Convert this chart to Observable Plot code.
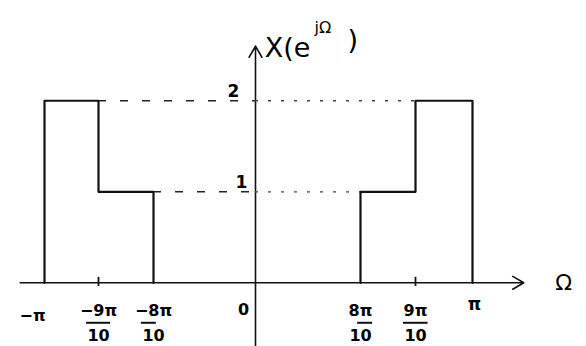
<!DOCTYPE html>
<html><head><meta charset="utf-8">
<script src="https://cdn.jsdelivr.net/npm/d3@7"></script>
<script src="https://cdn.jsdelivr.net/npm/@observablehq/plot@0.6"></script>
<style>body{margin:0;background:#fff}</style>
</head><body>
<div id="chart"></div>
<script>
// Spectrum X(e^{jΩ}), Ω in units of π
const bandStart = [-1, -0.9, 0.8, 0.9];
const bandEnd   = [-0.9, -0.8, 0.9, 1];
const bandLevel = [2, 1, 1, 2];
const bandSide  = ["left", "left", "right", "right"];

const tickValues = [-1, -0.9, -0.8, 0, 0.8, 0.9, 1];
const tickNumerators = ["−π", "−9π", "−8π", "0", "8π", "9π", "π"];
const tickDenominators = ["", "10", "10", "", "10", "10", ""];
const levelValues = [1, 2];
const levelLabels = ["1", "2"];

// build outline vertices per side from the band arrays
const outline = [];
for (const side of ["left", "right"]) {
  const idx = bandSide.map((s, i) => s === side ? i : -1).filter(i => i >= 0);
  outline.push({side, x: bandStart[idx[0]], y: 0});
  for (const i of idx) {
    outline.push({side, x: bandStart[i], y: bandLevel[i]});
    outline.push({side, x: bandEnd[i], y: bandLevel[i]});
  }
  outline.push({side, x: bandEnd[idx[idx.length - 1]], y: 0});
}
// dashed guide lines between the vertical axis and each level's inner edge
const guides = bandStart.map((s, i) => bandSide[i] === "left"
  ? {x1: bandEnd[i], x2: 0, y: bandLevel[i], side: "left"}
  : {x1: 0, x2: bandStart[i], y: bandLevel[i], side: "right"});
const ticks = tickValues.map((v, i) => ({x: v, num: tickNumerators[i], den: tickDenominators[i]}));
const fracs = ticks.filter(d => d.den);
const levels = levelValues.map((v, i) => ({y: v, label: levelLabels[i]}));

const font = "DejaVu Sans";
const ink = "#111";
const chart = Plot.plot({
  width: 586,
  height: 346,
  margin: 0,
  style: {fontFamily: font, background: "white", overflow: "visible"},
  x: {type: "linear", domain: [-1.5, -1, -0.9, -0.8, 0, 0.8, 0.9, 1, 1.5],
      range: [-226, 44, 98, 153, 255, 360, 415, 472, 757], axis: null},
  y: {domain: [-0.7, 2.75], range: [346, 32], axis: null},
  marks: [
    // axes
    Plot.arrow([{x1: -1.045, x2: 1.09, y1: 0, y2: 0}], {x1: "x1", x2: "x2", y1: "y1", y2: "y2", stroke: ink, strokeWidth: 1.6, headLength: 12, bend: false}),
    Plot.arrow([{x1: 0, x2: 0, y1: -0.7, y2: 2.6}], {x1: "x1", x2: "x2", y1: "y1", y2: "y2", stroke: ink, strokeWidth: 1.6, headLength: 12, bend: false}),
    // dashed guides
    Plot.ruleY(guides.filter(d => d.side === "left"), {x1: "x1", x2: "x2", y: "y", stroke: "#222", strokeWidth: 1.6, strokeDasharray: "8,14"}),
    Plot.ruleY(guides.filter(d => d.side === "right"), {x1: "x1", x2: "x2", y: "y", stroke: "#444", strokeWidth: 1.3, strokeDasharray: "3,10"}),
    // spectrum outline
    Plot.line(outline, {x: "x", y: "y", z: "side", stroke: ink, strokeWidth: 2.2}),
    // small tick marks on the axis
    Plot.ruleX([-0.9, 0.9], {x: d => d, y1: -0.04, y2: 0.06, stroke: ink, strokeWidth: 1.8}),
    // tick labels
    Plot.text(ticks.filter(d => d.x === -1), {x: "x", y: 0, text: "num", dy: 33, dx: -12, fontSize: 16, fontWeight: "bold"}),
    Plot.text(ticks.filter(d => d.x === 0), {x: "x", y: 0, text: "num", dy: 27, dx: -12, fontSize: 16, fontWeight: "bold"}),
    Plot.text(ticks.filter(d => d.x === 1), {x: "x", y: 0, text: "num", dy: 22, dx: 2, fontSize: 17, fontWeight: "bold"}),
    Plot.text(fracs, {x: "x", y: 0, text: "num", dy: 28, fontSize: 16, fontWeight: "bold"}),
    Plot.ruleY(fracs, {x1: d => d.x - 0.022, x2: d => d.x + 0.022, y: 0, dy: 40, stroke: ink, strokeWidth: 2}),
    Plot.text(fracs, {x: "x", y: 0, text: "den", dy: 53, fontSize: 16, fontWeight: "bold"}),
    // level labels
    Plot.text(levels.filter(d => d.y === 2), {x: 0, y: "y", text: "label", dx: -22, dy: -9, fontSize: 17, fontWeight: "bold"}),
    Plot.text(levels.filter(d => d.y === 1), {x: 0, y: "y", text: "label", dx: -14, dy: -9, fontSize: 17, fontWeight: "bold"}),
    // axis titles
    Plot.text(["X(e"], {x: 0.07, y: 2.58, text: d => d, textAnchor: "start", fontSize: 27}),
    Plot.text(["jΩ"], {x: 0.45, y: 2.8, text: d => d, textAnchor: "start", fontSize: 16}),
    Plot.text([")"], {x: 0.7, y: 2.66, text: d => d, textAnchor: "start", fontSize: 27}),
    Plot.text(["Ω"], {x: 1.16, y: 0, text: d => d, fontSize: 22})
  ]
});
document.getElementById("chart").appendChild(chart);
</script>
</body></html>
